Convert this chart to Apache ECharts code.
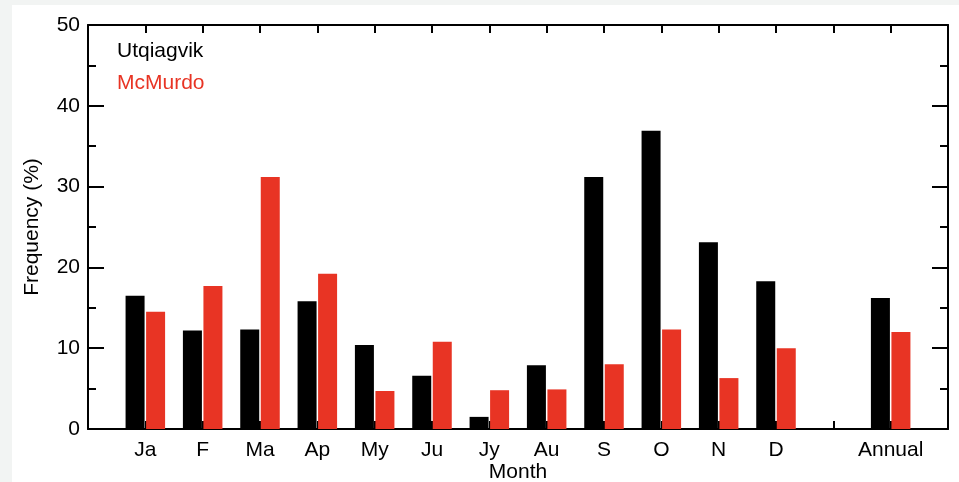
<!DOCTYPE html>
<html>
<head>
<meta charset="utf-8">
<script src="https://cdn.jsdelivr.net/npm/echarts@6/dist/echarts.min.js"></script>
<style>
  html, body { margin: 0; padding: 0; background: #f2f4f3; width: 959px; height: 482px; overflow: hidden; }
  #chart { position: absolute; left: 12px; top: 5px; width: 947px; height: 477px; background: #ffffff; }
</style>
</head>
<body>
<div id="chart"></div>
<script>
// Month labels along the x axis; position 13 is an empty slot before "Annual"
const positions = [1, 2, 3, 4, 5, 6, 7, 8, 9, 10, 11, 12, 14];
const tickLabels = ['Ja', 'F', 'Ma', 'Ap', 'My', 'Ju', 'Jy', 'Au', 'S', 'O', 'N', 'D', 'Annual'];

// Frequency (%) per month and annual
const utqiagvik = [16.5, 12.2, 12.3, 15.8, 10.4, 6.6, 1.5, 7.9, 31.2, 36.9, 23.1, 18.3, 16.2];
const mcmurdo   = [14.5, 17.7, 31.2, 19.2, 4.7, 10.8, 4.8, 4.9, 8.0, 12.3, 6.3, 10.0, 12.0];

const seriesNames = ['Utqiagvik', 'McMurdo'];
const colors = ['#000000', '#e83424'];

const labelAt = {};
positions.forEach((p, i) => { labelAt[p] = tickLabels[i]; });

const font = 'Liberation Sans, Arial, Helvetica, sans-serif';
const fs = 21;
const axisLine = { show: true, onZero: false, lineStyle: { color: '#000', width: 2 } };
const tickStyle = { color: '#000', width: 2 };

const chart = echarts.init(document.getElementById('chart'));
chart.setOption({
  animation: false,
  textStyle: { fontFamily: font },
  grid: { left: 76, top: 20, right: 11, bottom: 53, containLabel: false, outerBoundsMode: 'none' },
  legend: {
    orient: 'vertical',
    left: 95,
    top: 31,
    itemWidth: 0,
    itemHeight: 0,
    itemGap: 11,
    icon: 'rect',
    selectedMode: false,
    data: seriesNames.map((n, i) => ({ name: n, textStyle: { color: colors[i], fontSize: fs, fontFamily: font } }))
  },
  xAxis: [
    {
      type: 'value', min: 0, max: 15, interval: 1, position: 'bottom',
      axisLine: axisLine,
      axisTick: { show: true, inside: true, length: 8, lineStyle: tickStyle },
      axisLabel: {
        show: true, color: '#000', fontSize: fs, margin: 11, fontFamily: font,
        formatter: v => labelAt[v] || ''
      },
      splitLine: { show: false },
      name: 'Month', nameLocation: 'middle', nameGap: 33, nameMoveOverlap: false,
      nameTextStyle: { color: '#000', fontSize: fs, fontFamily: font }
    },
    {
      type: 'value', min: 0, max: 15, interval: 1, position: 'top',
      axisLine: axisLine,
      axisTick: { show: true, inside: true, length: 8, lineStyle: tickStyle },
      axisLabel: { show: false },
      splitLine: { show: false }
    }
  ],
  yAxis: [
    {
      type: 'value', min: 0, max: 50, interval: 10, position: 'left',
      axisLine: axisLine,
      axisTick: { show: true, inside: true, length: 16, lineStyle: tickStyle },
      minorTick: { show: true, splitNumber: 2, length: 8, lineStyle: tickStyle },
      axisLabel: { show: true, color: '#000', fontSize: fs, margin: 8, fontFamily: font },
      splitLine: { show: false },
      name: 'Frequency (%)', nameLocation: 'middle', nameGap: 45, nameRotate: 90, nameMoveOverlap: false,
      nameTextStyle: { color: '#000', fontSize: fs, fontFamily: font }
    },
    {
      type: 'value', min: 0, max: 50, interval: 10, position: 'right',
      axisLine: axisLine,
      axisTick: { show: true, inside: true, length: 16, lineStyle: tickStyle },
      minorTick: { show: true, splitNumber: 2, length: 8, lineStyle: tickStyle },
      axisLabel: { show: false },
      splitLine: { show: false }
    }
  ],
  series: [
    {
      name: seriesNames[0], type: 'bar', xAxisIndex: 0, yAxisIndex: 0,
      barWidth: 19, barGap: '8%',
      itemStyle: { color: colors[0] },
      data: positions.map((p, i) => [p, utqiagvik[i]])
    },
    {
      name: seriesNames[1], type: 'bar', xAxisIndex: 0, yAxisIndex: 0,
      barWidth: 19, barGap: '8%',
      itemStyle: { color: colors[1] },
      data: positions.map((p, i) => [p, mcmurdo[i]])
    }
  ]
});
</script>
</body>
</html>
